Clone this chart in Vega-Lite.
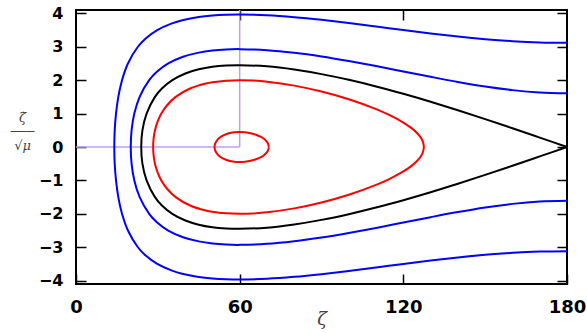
{
  "$schema": "https://vega.github.io/schema/vega-lite/v6.json",
  "width": 491,
  "height": 274,
  "autosize": "none",
  "padding": {"left": 76, "top": 10, "right": 20, "bottom": 49},
  "background": "white",
  "config": {
    "view": {"stroke": "black", "strokeWidth": 2},
    "axis": {"domain": false, "grid": false, "tickColor": "black", "tickWidth": 1.5, "labelFont": "DejaVu Sans", "labelFontWeight": "bold", "labelColor": "black", "labelFlush": false, "labelOverlap": false}
  },
  "layer": [
    {
      "data": {"values": [
        {"x": 60, "x2": 60, "y": 0, "y2": 4.1},
        {"x": 0, "x2": 60, "y": 0, "y2": 0}
      ]},
      "mark": {"type": "rule", "color": "#c09ff0", "strokeWidth": 1.5},
      "encoding": {
        "x": {"field": "x", "type": "quantitative", "scale": {"domain": [0, 180], "nice": false, "zero": false},
              "axis": {"orient": "top", "values": [60, 120], "labels": false, "tickSize": 10, "offset": -10, "title": null}},
        "x2": {"field": "x2"},
        "y": {"field": "y", "type": "quantitative", "scale": {"domain": [-4.1, 4.1], "nice": false, "zero": false},
              "axis": {"orient": "right", "values": [-4, -3, -2, -1, 0, 1, 2, 3, 4], "labels": false, "tickSize": 10, "offset": -10, "title": null}},
        "y2": {"field": "y2"}
      }
    },
    {
      "data": {"values": [
        {"c":"b1","o":0,"x":180,"y":3.118},{"c":"b1","o":1,"x":170,"y":3.130},{"c":"b1","o":2,"x":160,"y":3.168},{"c":"b1","o":3,"x":150,"y":3.228},{"c":"b1","o":4,"x":140,"y":3.306},{"c":"b1","o":5,"x":130,"y":3.399},{"c":"b1","o":6,"x":120,"y":3.501},{"c":"b1","o":7,"x":110,"y":3.606},{"c":"b1","o":8,"x":100,"y":3.710},{"c":"b1","o":9,"x":90,"y":3.805},{"c":"b1","o":10,"x":80,"y":3.885},{"c":"b1","o":11,"x":70,"y":3.942},{"c":"b1","o":12,"x":60,"y":3.965},{"c":"b1","o":13,"x":55,"y":3.958},{"c":"b1","o":14,"x":50,"y":3.934},{"c":"b1","o":15,"x":45,"y":3.889},{"c":"b1","o":16,"x":39.3,"y":3.8},{"c":"b1","o":17,"x":35.18,"y":3.7},{"c":"b1","o":18,"x":29.78,"y":3.5},{"c":"b1","o":19,"x":25.55,"y":3.25},{"c":"b1","o":20,"x":22.69,"y":3.0},{"c":"b1","o":21,"x":19.04,"y":2.5},{"c":"b1","o":22,"x":16.87,"y":2.0},{"c":"b1","o":23,"x":15.51,"y":1.5},{"c":"b1","o":24,"x":14.67,"y":1.0},{"c":"b1","o":25,"x":14.19,"y":0.5},{"c":"b1","o":26,"x":14.04,"y":0},
        {"c":"b1","o":27,"x":14.19,"y":-0.5},{"c":"b1","o":28,"x":14.67,"y":-1.0},{"c":"b1","o":29,"x":15.51,"y":-1.5},{"c":"b1","o":30,"x":16.87,"y":-2.0},{"c":"b1","o":31,"x":19.04,"y":-2.5},{"c":"b1","o":32,"x":22.69,"y":-3.0},{"c":"b1","o":33,"x":25.55,"y":-3.25},{"c":"b1","o":34,"x":29.78,"y":-3.5},{"c":"b1","o":35,"x":35.18,"y":-3.7},{"c":"b1","o":36,"x":39.3,"y":-3.8},{"c":"b1","o":37,"x":45,"y":-3.889},{"c":"b1","o":38,"x":50,"y":-3.934},{"c":"b1","o":39,"x":55,"y":-3.958},{"c":"b1","o":40,"x":60,"y":-3.965},{"c":"b1","o":41,"x":70,"y":-3.942},{"c":"b1","o":42,"x":80,"y":-3.885},{"c":"b1","o":43,"x":90,"y":-3.805},{"c":"b1","o":44,"x":100,"y":-3.710},{"c":"b1","o":45,"x":110,"y":-3.606},{"c":"b1","o":46,"x":120,"y":-3.501},{"c":"b1","o":47,"x":130,"y":-3.399},{"c":"b1","o":48,"x":140,"y":-3.306},{"c":"b1","o":49,"x":150,"y":-3.228},{"c":"b1","o":50,"x":160,"y":-3.168},{"c":"b1","o":51,"x":170,"y":-3.130},{"c":"b1","o":52,"x":180,"y":-3.118},

        {"c":"b2","o":0,"x":180,"y":1.606},{"c":"b2","o":1,"x":170,"y":1.631},{"c":"b2","o":2,"x":160,"y":1.702},{"c":"b2","o":3,"x":150,"y":1.810},{"c":"b2","o":4,"x":140,"y":1.947},{"c":"b2","o":5,"x":130,"y":2.101},{"c":"b2","o":6,"x":120,"y":2.262},{"c":"b2","o":7,"x":110,"y":2.422},{"c":"b2","o":8,"x":100,"y":2.573},{"c":"b2","o":9,"x":90,"y":2.709},{"c":"b2","o":10,"x":80,"y":2.820},{"c":"b2","o":11,"x":70,"y":2.899},{"c":"b2","o":12,"x":60,"y":2.929},{"c":"b2","o":13,"x":55,"y":2.920},{"c":"b2","o":14,"x":50,"y":2.888},{"c":"b2","o":15,"x":45,"y":2.825},{"c":"b2","o":16,"x":39.24,"y":2.7},{"c":"b2","o":17,"x":33.82,"y":2.5},{"c":"b2","o":18,"x":29.64,"y":2.25},{"c":"b2","o":19,"x":26.83,"y":2.0},{"c":"b2","o":20,"x":23.34,"y":1.5},{"c":"b2","o":21,"x":21.38,"y":1.0},{"c":"b2","o":22,"x":20.37,"y":0.5},{"c":"b2","o":23,"x":20.07,"y":0},
        {"c":"b2","o":24,"x":20.37,"y":-0.5},{"c":"b2","o":25,"x":21.38,"y":-1.0},{"c":"b2","o":26,"x":23.34,"y":-1.5},{"c":"b2","o":27,"x":26.83,"y":-2.0},{"c":"b2","o":28,"x":29.64,"y":-2.25},{"c":"b2","o":29,"x":33.82,"y":-2.5},{"c":"b2","o":30,"x":39.24,"y":-2.7},{"c":"b2","o":31,"x":45,"y":-2.825},{"c":"b2","o":32,"x":50,"y":-2.888},{"c":"b2","o":33,"x":55,"y":-2.920},{"c":"b2","o":34,"x":60,"y":-2.929},{"c":"b2","o":35,"x":70,"y":-2.899},{"c":"b2","o":36,"x":80,"y":-2.820},{"c":"b2","o":37,"x":90,"y":-2.709},{"c":"b2","o":38,"x":100,"y":-2.573},{"c":"b2","o":39,"x":110,"y":-2.422},{"c":"b2","o":40,"x":120,"y":-2.262},{"c":"b2","o":41,"x":130,"y":-2.101},{"c":"b2","o":42,"x":140,"y":-1.947},{"c":"b2","o":43,"x":150,"y":-1.810},{"c":"b2","o":44,"x":160,"y":-1.702},{"c":"b2","o":45,"x":170,"y":-1.631},{"c":"b2","o":46,"x":180,"y":-1.606},

        {"c":"k","o":0,"x":180,"y":0},{"c":"k","o":1,"x":170,"y":0.282},{"c":"k","o":2,"x":160,"y":0.562},{"c":"k","o":3,"x":150,"y":0.835},{"c":"k","o":4,"x":140,"y":1.101},{"c":"k","o":5,"x":130,"y":1.354},{"c":"k","o":6,"x":120,"y":1.592},{"c":"k","o":7,"x":110,"y":1.813},{"c":"k","o":8,"x":100,"y":2.010},{"c":"k","o":9,"x":90,"y":2.181},{"c":"k","o":10,"x":80,"y":2.318},{"c":"k","o":11,"x":70,"y":2.413},{"c":"k","o":12,"x":60,"y":2.449},{"c":"k","o":13,"x":55,"y":2.438},{"c":"k","o":14,"x":50,"y":2.400},{"c":"k","o":15,"x":45,"y":2.324},{"c":"k","o":16,"x":40.1,"y":2.2},{"c":"k","o":17,"x":35.32,"y":2.0},{"c":"k","o":18,"x":31.5,"y":1.75},{"c":"k","o":19,"x":28.95,"y":1.5},{"c":"k","o":20,"x":25.88,"y":1.0},{"c":"k","o":21,"x":24.35,"y":0.5},{"c":"k","o":22,"x":23.91,"y":0},
        {"c":"k","o":23,"x":24.35,"y":-0.5},{"c":"k","o":24,"x":25.88,"y":-1.0},{"c":"k","o":25,"x":28.95,"y":-1.5},{"c":"k","o":26,"x":31.5,"y":-1.75},{"c":"k","o":27,"x":35.32,"y":-2.0},{"c":"k","o":28,"x":40.1,"y":-2.2},{"c":"k","o":29,"x":45,"y":-2.324},{"c":"k","o":30,"x":50,"y":-2.400},{"c":"k","o":31,"x":55,"y":-2.438},{"c":"k","o":32,"x":60,"y":-2.449},{"c":"k","o":33,"x":70,"y":-2.413},{"c":"k","o":34,"x":80,"y":-2.318},{"c":"k","o":35,"x":90,"y":-2.181},{"c":"k","o":36,"x":100,"y":-2.010},{"c":"k","o":37,"x":110,"y":-1.813},{"c":"k","o":38,"x":120,"y":-1.592},{"c":"k","o":39,"x":130,"y":-1.354},{"c":"k","o":40,"x":140,"y":-1.101},{"c":"k","o":41,"x":150,"y":-0.835},{"c":"k","o":42,"x":160,"y":-0.562},{"c":"k","o":43,"x":170,"y":-0.282},{"c":"k","o":44,"x":180,"y":0},

        {"c":"r1","o":0,"x":127.54,"y":0},{"c":"r1","o":1,"x":127.21,"y":0.15},{"c":"r1","o":2,"x":126.5,"y":0.268},{"c":"r1","o":3,"x":125,"y":0.420},{"c":"r1","o":4,"x":123,"y":0.564},{"c":"r1","o":5,"x":120,"y":0.732},{"c":"r1","o":6,"x":115,"y":0.952},{"c":"r1","o":7,"x":110,"y":1.134},{"c":"r1","o":8,"x":100,"y":1.429},{"c":"r1","o":9,"x":90,"y":1.661},{"c":"r1","o":10,"x":80,"y":1.837},{"c":"r1","o":11,"x":70,"y":1.955},{"c":"r1","o":12,"x":65,"y":1.988},{"c":"r1","o":13,"x":60,"y":2.0},{"c":"r1","o":14,"x":55,"y":1.986},{"c":"r1","o":15,"x":50,"y":1.939},{"c":"r1","o":16,"x":47.59,"y":1.9},{"c":"r1","o":17,"x":41.81,"y":1.75},{"c":"r1","o":18,"x":36.54,"y":1.5},{"c":"r1","o":19,"x":33.38,"y":1.25},{"c":"r1","o":20,"x":31.29,"y":1.0},{"c":"r1","o":21,"x":29.87,"y":0.75},{"c":"r1","o":22,"x":28.96,"y":0.5},{"c":"r1","o":23,"x":28.45,"y":0.25},{"c":"r1","o":24,"x":28.28,"y":0},
        {"c":"r1","o":25,"x":28.45,"y":-0.25},{"c":"r1","o":26,"x":28.96,"y":-0.5},{"c":"r1","o":27,"x":29.87,"y":-0.75},{"c":"r1","o":28,"x":31.29,"y":-1.0},{"c":"r1","o":29,"x":33.38,"y":-1.25},{"c":"r1","o":30,"x":36.54,"y":-1.5},{"c":"r1","o":31,"x":41.81,"y":-1.75},{"c":"r1","o":32,"x":47.59,"y":-1.9},{"c":"r1","o":33,"x":50,"y":-1.939},{"c":"r1","o":34,"x":55,"y":-1.986},{"c":"r1","o":35,"x":60,"y":-2.0},{"c":"r1","o":36,"x":65,"y":-1.988},{"c":"r1","o":37,"x":70,"y":-1.955},{"c":"r1","o":38,"x":80,"y":-1.837},{"c":"r1","o":39,"x":90,"y":-1.661},{"c":"r1","o":40,"x":100,"y":-1.429},{"c":"r1","o":41,"x":110,"y":-1.134},{"c":"r1","o":42,"x":115,"y":-0.952},{"c":"r1","o":43,"x":120,"y":-0.732},{"c":"r1","o":44,"x":123,"y":-0.564},{"c":"r1","o":45,"x":125,"y":-0.420},{"c":"r1","o":46,"x":126.5,"y":-0.268},{"c":"r1","o":47,"x":127.21,"y":-0.15},{"c":"r1","o":48,"x":127.54,"y":0},

        {"c":"r2","o":0,"x":70.7,"y":0},{"c":"r2","o":1,"x":70.4,"y":0.102},{"c":"r2","o":2,"x":70,"y":0.156},{"c":"r2","o":3,"x":69,"y":0.237},{"c":"r2","o":4,"x":68,"y":0.292},{"c":"r2","o":5,"x":66,"y":0.367},{"c":"r2","o":6,"x":64,"y":0.414},{"c":"r2","o":7,"x":62,"y":0.440},{"c":"r2","o":8,"x":60,"y":0.450},{"c":"r2","o":9,"x":58,"y":0.440},{"c":"r2","o":10,"x":56,"y":0.409},{"c":"r2","o":11,"x":54,"y":0.348},{"c":"r2","o":12,"x":53,"y":0.300},{"c":"r2","o":13,"x":52,"y":0.230},{"c":"r2","o":14,"x":51,"y":0.0995},{"c":"r2","o":15,"x":50.8,"y":0},
        {"c":"r2","o":16,"x":51,"y":-0.0995},{"c":"r2","o":17,"x":52,"y":-0.230},{"c":"r2","o":18,"x":53,"y":-0.300},{"c":"r2","o":19,"x":54,"y":-0.348},{"c":"r2","o":20,"x":56,"y":-0.409},{"c":"r2","o":21,"x":58,"y":-0.440},{"c":"r2","o":22,"x":60,"y":-0.450},{"c":"r2","o":23,"x":62,"y":-0.440},{"c":"r2","o":24,"x":64,"y":-0.414},{"c":"r2","o":25,"x":66,"y":-0.367},{"c":"r2","o":26,"x":68,"y":-0.292},{"c":"r2","o":27,"x":69,"y":-0.237},{"c":"r2","o":28,"x":70,"y":-0.156},{"c":"r2","o":29,"x":70.4,"y":-0.102},{"c":"r2","o":30,"x":70.7,"y":0}
      ]},
      "mark": {"type": "line", "interpolate": "catmull-rom"},
      "encoding": {
        "x": {"field": "x", "type": "quantitative", "scale": {"domain": [0, 180], "nice": false, "zero": false},
              "axis": {"orient": "bottom", "values": [0, 60, 120, 180], "labelFontSize": 18, "tickSize": 10, "offset": -10, "labelPadding": 14,
                       "title": "ζ", "titleFont": "DejaVu Serif", "titleFontStyle": "italic", "titleFontWeight": "normal", "titleFontSize": 18, "titleColor": "#444444", "titlePadding": -6}},
        "y": {"field": "y", "type": "quantitative", "scale": {"domain": [-4.1, 4.1], "nice": false, "zero": false},
              "axis": {"orient": "left", "values": [-4, -3, -2, -1, 0, 1, 2, 3, 4], "labelFontSize": 16, "tickSize": 10, "offset": -10, "labelPadding": 13,
                       "title": ["ζ̇", "───", "√μ"], "titleAngle": 0, "titleFont": "DejaVu Serif", "titleFontWeight": "normal", "titleFontStyle": "italic", "titleFontSize": 13, "titleColor": "#444444",
                       "titleX": -64, "titleY": 107, "titleAlign": "center", "titleBaseline": "middle", "titleLineHeight": 14}},
        "order": {"field": "o", "type": "quantitative"},
        "color": {"field": "c", "type": "nominal", "scale": {"domain": ["b1", "b2", "k", "r1", "r2"], "range": ["#0000ff", "#0000ff", "#000000", "#ff0000", "#ff0000"]}, "legend": null},
        "strokeWidth": {"field": "c", "type": "nominal", "scale": {"domain": ["b1", "b2", "k", "r1", "r2"], "range": [2, 2, 1.4, 2, 2]}, "legend": null}
      }
    }
  ],
  "resolve": {"axis": {"x": "independent", "y": "independent"}}
}
